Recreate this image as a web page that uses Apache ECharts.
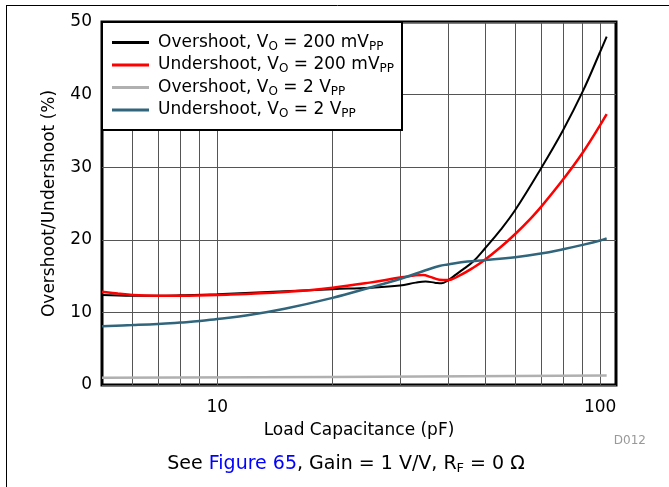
<!DOCTYPE html>
<html><head><meta charset="utf-8">
<script src="https://cdn.jsdelivr.net/npm/echarts@6/dist/echarts.min.js"></script>
<style>html,body{margin:0;padding:0;background:#fff}#c{width:669px;height:487px}</style>
</head><body><div id="c"></div>
<script>
const FONT = '"DejaVu Sans", "Liberation Sans", Arial, sans-serif';

// X tick labels and vertical grid lines (pF)
const xTickLabels = [10, 100];
const gridLineCaps = [6, 7, 8, 9, 10, 20, 30, 40, 50, 60, 70, 80, 90, 100];

// Overshoot, VO = 200 mVPP
const overshoot200Cap = [5, 6, 7, 8, 10, 15, 20, 25, 30, 33, 35, 37, 38.5, 40, 42, 44, 46.6, 50, 55, 60, 70, 80, 90, 100, 104];
const overshoot200Pct = [12.4, 12.3, 12.3, 12.35, 12.5, 12.9, 13.2, 13.4, 13.7, 14.1, 14.25, 14.1, 14.0, 14.4, 15.2, 16.0, 17.0, 18.8, 21.4, 24.1, 29.8, 35.1, 40.4, 45.9, 48.0];

// Undershoot, VO = 200 mVPP
const undershoot200Cap = [5, 5.5, 6, 7, 8, 10, 15, 20, 25, 30, 33, 34.5, 36, 38, 40, 43, 46.6, 50, 55, 60, 66, 70, 80, 90, 100, 104];
const undershoot200Pct = [12.85, 12.6, 12.4, 12.3, 12.3, 12.4, 12.8, 13.4, 14.1, 14.8, 15.1, 15.15, 14.9, 14.5, 14.45, 15.1, 16.15, 17.25, 19.0, 20.8, 23.0, 24.5, 28.3, 32.0, 35.8, 37.3];

// Overshoot, VO = 2 VPP
const overshoot2Cap = [5, 20, 104];
const overshoot2Pct = [1.0, 1.1, 1.3];

// Undershoot, VO = 2 VPP
const undershoot2Cap = [5, 6, 7, 8, 9, 10, 12, 15, 20, 25, 30, 35, 38, 40, 45, 50, 60, 70, 80, 90, 100, 104];
const undershoot2Pct = [8.1, 8.25, 8.4, 8.6, 8.8, 9.1, 9.6, 10.5, 12.0, 13.4, 14.6, 15.8, 16.4, 16.6, 17.0, 17.2, 17.6, 18.1, 18.7, 19.3, 19.9, 20.2];

const seriesNames = ['Overshoot, VO = 200 mVPP', 'Undershoot, VO = 200 mVPP', 'Overshoot, VO = 2 VPP', 'Undershoot, VO = 2 VPP'];
const legendParts = [
  ['Overshoot, V', 'O', ' = 200 mV', 'PP'],
  ['Undershoot, V', 'O', ' = 200 mV', 'PP'],
  ['Overshoot, V', 'O', ' = 2 V', 'PP'],
  ['Undershoot, V', 'O', ' = 2 V', 'PP']
];
const seriesColors = ['#000000', '#ff0000', '#b0b0b0', '#30657c'];

function zip(a, b) { return a.map((v, i) => [v, b[i]]); }

const legendRich = {
  t: { fontFamily: FONT, fontSize: 17, color: '#000', lineHeight: 20 },
  s: { fontFamily: FONT, fontSize: 12, color: '#000', lineHeight: 11, verticalAlign: 'bottom' }
};
const captionRich = {
  t: { fontFamily: FONT, fontSize: 19, fill: '#000', lineHeight: 22 },
  s: { fontFamily: FONT, fontSize: 13, fill: '#000', lineHeight: 12, verticalAlign: 'bottom' },
  b: { fontFamily: FONT, fontSize: 19, fill: '#0000ff', lineHeight: 22 }
};

const chart = echarts.init(document.getElementById('c'), null, { renderer: 'canvas' });

function lineSeries(idx, cap, pct, width, z) {
  return {
    name: seriesNames[idx], type: 'line', data: zip(cap, pct),
    showSymbol: false, symbol: 'none', smooth: 0.4, z: z,
    color: seriesColors[idx],
    itemStyle: { color: seriesColors[idx] },
    lineStyle: { color: seriesColors[idx], width: width }
  };
}

const option = {
  animation: false,
  backgroundColor: '#fff',
  grid: { left: 102, top: 22, right: 53, bottom: 102, show: true, borderColor: '#000', borderWidth: 3, backgroundColor: 'transparent' },
  xAxis: {
    type: 'log', logBase: 10, min: 5, max: 110,
    axisLine: { show: false }, axisTick: { show: false }, splitLine: { show: false },
    axisLabel: {
      fontFamily: FONT, fontSize: 17, color: '#000', margin: 14,
      formatter: function (v) { const r = Math.round(v); return (Math.abs(v - r) < 1e-6 && xTickLabels.includes(r)) ? String(r) : ''; }
    },
    name: 'Load Capacitance (pF)', nameLocation: 'middle', nameGap: 37, nameMoveOverlap: false,
    nameTextStyle: { fontFamily: FONT, fontSize: 17, color: '#000' }
  },
  yAxis: {
    type: 'value', min: 0, max: 50, interval: 10,
    axisLine: { show: false }, axisTick: { show: false },
    axisLabel: { fontFamily: FONT, fontSize: 17, color: '#000', margin: 10 },
    splitLine: { lineStyle: { color: '#555', width: 1 } },
    name: 'Overshoot/Undershoot (%)', nameLocation: 'middle', nameGap: 44, nameMoveOverlap: false,
    nameTextStyle: { fontFamily: FONT, fontSize: 17, color: '#000' }
  },
  legend: {
    orient: 'vertical', left: 102, top: 22,
    data: seriesNames,
    icon: 'rect', itemWidth: 37, itemHeight: 3, itemGap: 4,
    padding: [12, 8, 10, 10],
    backgroundColor: '#fff', borderColor: '#000', borderWidth: 2, borderRadius: 0,
    selectedMode: false,
    textStyle: { fontFamily: FONT, fontSize: 17, color: '#000', padding: [0, 0, 0, 4], rich: legendRich },
    formatter: function (name) {
      const parts = legendParts[seriesNames.indexOf(name)];
      return parts.map((p, i) => '{' + (i % 2 ? 's' : 't') + '|' + p + '}').join('');
    }
  },
  series: [
    {
      name: 'grid', type: 'line', data: [], silent: true, z: 1,
      markLine: {
        silent: true, symbol: 'none', z: 1, label: { show: false },
        lineStyle: { color: '#555', width: 1, type: 'solid' },
        data: gridLineCaps.map(c => ({ xAxis: c }))
      }
    },
    lineSeries(2, overshoot2Cap, overshoot2Pct, 2.5, 2),
    lineSeries(0, overshoot200Cap, overshoot200Pct, 2, 3),
    lineSeries(1, undershoot200Cap, undershoot200Pct, 2.5, 3),
    lineSeries(3, undershoot2Cap, undershoot2Pct, 2.5, 3)
  ],
  graphic: [
    { type: 'line', shape: { x1: 6, y1: 5.5, x2: 669, y2: 5.5 }, style: { stroke: '#000', lineWidth: 1 } },
    { type: 'line', shape: { x1: 6.5, y1: 5, x2: 6.5, y2: 487 }, style: { stroke: '#000', lineWidth: 1 } },
    { type: 'text', x: 646, y: 441, style: { text: 'D012', fontFamily: FONT, fontSize: 12, fill: '#999', align: 'right', verticalAlign: 'middle' } },
    { type: 'text', x: 346, y: 464, style: {
        text: '{t|See }{b|Figure 65}{t|, Gain = 1 V/V, R}{s|F}{t| = 0 Ω}',
        rich: captionRich, align: 'center', verticalAlign: 'middle' } }
  ]
};
chart.setOption(option);
</script></body></html>
